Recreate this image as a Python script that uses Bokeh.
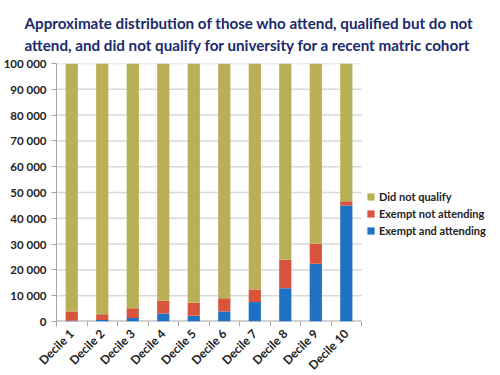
from bokeh.plotting import figure
from bokeh.models import Legend, LegendItem, FixedTicker, Title
from bokeh.embed import file_html
from bokeh.resources import INLINE
import math

title_lines = ["Approximate distribution of those who attend, qualified but do not",
               "attend, and did not qualify for university for a recent matric cohort"]
categories = ["Decile 1", "Decile 2", "Decile 3", "Decile 4", "Decile 5",
              "Decile 6", "Decile 7", "Decile 8", "Decile 9", "Decile 10"]
exempt_attending = [300, 600, 1400, 3100, 2200, 3900, 7600, 12900, 22400, 45000]
exempt_not_attending = [3600, 2200, 3700, 4900, 5100, 5100, 4800, 11000, 7700, 1600]
did_not_qualify = [96100, 97200, 94900, 92000, 92700, 91000, 87600, 76100, 69900, 53400]
series_names = ["Exempt and attending", "Exempt not attending", "Did not qualify"]
colors = ["#1F71C4", "#D8543C", "#B8AF56"]
y_ticks = [0, 10000, 20000, 30000, 40000, 50000, 60000, 70000, 80000, 90000, 100000]

FONT = "Lato"
AXIS_GREY = "#A6A6A6"

xs = list(range(1, len(categories) + 1))
x_lo, x_hi = 0.5, len(categories) + 0.5
b1 = [0] * len(xs)
t1 = exempt_attending
t2 = [a + b for a, b in zip(t1, exempt_not_attending)]
t3 = [a + b for a, b in zip(t2, did_not_qualify)]

p = figure(frame_width=446, frame_height=258, output_backend="svg", toolbar_location=None,
           x_range=(x_lo, 15.12), y_range=(0, 100000),
           min_border_left=54, min_border_right=0, min_border_bottom=54,
           min_border_top=63)

# gridlines and x axis line, limited to the category span
p.segment(x0=[x_lo] * len(y_ticks[1:]), y0=y_ticks[1:], x1=[x_hi] * len(y_ticks[1:]),
          y1=y_ticks[1:], line_color="#D9D9D9", line_width=1.5)
p.segment(x0=[x_lo], y0=[0], x1=[x_hi], y1=[0], line_color=AXIS_GREY, line_width=2)

r1 = p.vbar(x=xs, width=0.4, bottom=b1, top=t1, fill_color=colors[0], line_color=None)
r2 = p.vbar(x=xs, width=0.4, bottom=t1, top=t2, fill_color=colors[1], line_color=None)
r3 = p.vbar(x=xs, width=0.4, bottom=t2, top=t3, fill_color=colors[2], line_color=None)

p.add_layout(Title(text="\n".join(title_lines), align="left", offset=-32,
                   text_font=FONT, text_font_size="15.2px", text_font_style="bold",
                   text_color="#1B2A6B", text_line_height=1.25, standoff=19), "above")

p.xaxis.ticker = FixedTicker(ticks=xs, minor_ticks=[x - 0.5 for x in xs] + [x_hi])
p.xaxis.major_label_overrides = {x: c for x, c in zip(xs, categories)}
p.xaxis.major_label_orientation = math.pi / 4
p.xaxis.major_tick_line_color = None
p.xaxis.minor_tick_out = 5
p.xaxis.minor_tick_in = 0
p.xaxis.minor_tick_line_color = AXIS_GREY
p.xaxis.axis_line_color = None
p.xaxis.major_label_text_font = FONT
p.xaxis.major_label_text_font_style = "bold"
p.xaxis.major_label_text_font_size = "12px"
p.xaxis.major_label_text_color = "#222222"
p.xaxis.major_label_standoff = 4

p.yaxis.ticker = FixedTicker(ticks=y_ticks)
p.yaxis.major_label_overrides = {v: f"{v:,}".replace(",", " ") for v in y_ticks}
p.yaxis.minor_tick_line_color = None
p.yaxis.major_tick_out = 5
p.yaxis.major_tick_in = 0
p.yaxis.major_tick_line_color = AXIS_GREY
p.yaxis.axis_line_color = AXIS_GREY
p.yaxis.major_label_text_font = FONT
p.yaxis.major_label_text_font_style = "bold"
p.yaxis.major_label_text_font_size = "11.5px"
p.yaxis.major_label_text_color = "#222222"
p.yaxis.major_label_standoff = 5

p.grid.grid_line_color = None
p.outline_line_color = None

legend = Legend(items=[LegendItem(label=series_names[2], renderers=[r3]),
                       LegendItem(label=series_names[1], renderers=[r2]),
                       LegendItem(label=series_names[0], renderers=[r1])],
                location=(310, 84), border_line_color=None, background_fill_alpha=0,
                label_text_font=FONT, label_text_font_style="bold",
                label_text_font_size="11px", label_text_color="#222222",
                glyph_width=9, glyph_height=9, spacing=3, padding=0, margin=0,
                label_standoff=4, label_height=14)
p.add_layout(legend, "center")

out = open("out.html", "w")
out.write(file_html(p, INLINE))
out.close()
